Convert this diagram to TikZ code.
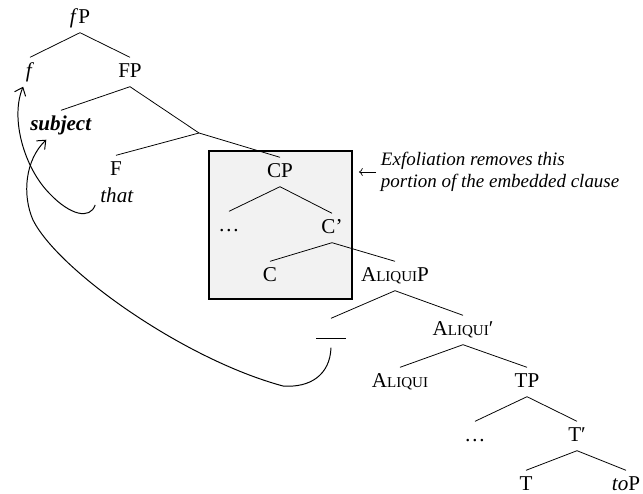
\documentclass[tikz,border=0pt]{standalone}
\usepackage{fontspec}
\setmainfont{Liberation Serif}
\usetikzlibrary{arrows.meta}
\tikzset{
	x=0.025cm, y=-0.025cm,
	every node/.style={font=\fontsize{15}{18}\selectfont},
	lbl/.style={text height=10.5pt, text depth=3pt, inner sep=3.5pt},
	branch/.style={draw, line width=0.55pt},
	move/.style={draw, -{Straight Barb[length=1.8mm,width=3mm]}, line width=0.7pt}
}
\newcommand{\smc}[1]{{\fontsize{10.7}{13}\selectfont #1}}

\begin{document}
\begin{tikzpicture}
\useasboundingbox (0,0) rectangle (643,493);
\node (exfol) [draw, line width=1.8pt, fill=black!5, minimum width=3.575cm, minimum height=3.7cm, inner sep=0pt] at (280.5,225) {};
\node (fP) [lbl] at (80,18) {\textit{f}P};
\node (f) [lbl] at (30,72) {\textit{f}};
\node (FP) [lbl] at (130,72) {FP};
\node (subject) [lbl] at (61,125) {\textbf{\textit{subject}}};
\coordinate (Fbar) at (199,133);
\node (F) [lbl] at (116,170) {F};
\node (that) [lbl] at (117,197) {\textit{that}};
\node (CP) [lbl] at (280,172) {CP};
\node (dots1) [lbl] at (229,226) {\dots};
\node (Cbar) [lbl] at (332,228) {C'};
\node (C) [lbl] at (270,276) {C};
\node (AP) [lbl] at (395,276) {A\smc{LIQUI}P};
\node (gap) [lbl] at (331,333) {\rule{21pt}{0.5pt}};
\node (Abar) [lbl] at (463,330) {A\smc{LIQUI}′};
\node (A) [lbl] at (400,382) {A\smc{LIQUI}};
\node (TP) [lbl] at (527,382) {TP};
\node (dots2) [lbl] at (475,436) {\dots};
\node (Tbar) [lbl] at (577,436) {T′};
\node (T) [lbl] at (526,485) {T};
\node (toP) [lbl] at (626,485) {\textit{to}P};
\node (note) [anchor=west, align=left, font=\fontsize{13.5}{16}\selectfont\itshape] at (376,172) {Exfoliation removes this\\portion of the embedded clause};
% branches
\draw[branch] (fP.south) -- (f.north); \draw[branch] (fP.south) -- (FP.north);
\draw[branch] (FP.south) -- (subject.north); \draw[branch] (FP.south) -- (Fbar);
\draw[branch] (Fbar) -- (F.north); \draw[branch] (Fbar) -- (CP.north);
\draw[branch] (CP.south) -- (dots1.north); \draw[branch] (CP.south) -- (Cbar.north);
\draw[branch] (Cbar.south) -- (C.north); \draw[branch] (Cbar.south) -- (AP.north);
\draw[branch] (AP.south) -- (gap.north); \draw[branch] (AP.south) -- (Abar.north);
\draw[branch] (Abar.south) -- (A.north); \draw[branch] (Abar.south) -- (TP.north);
\draw[branch] (TP.south) -- (dots2.north); \draw[branch] (TP.south) -- (Tbar.north);
\draw[branch] (Tbar.south) -- (T.north); \draw[branch] (Tbar.south) -- (toP.north);
% movement
\draw[move] (that.200) .. controls (90,220) and (70,215) .. (50,194) .. controls (24,168) and (10,118) .. (f.-115);
\draw[move] (gap.south) .. controls (330,375) and (310,388) .. (283,386) .. controls (183,359) and (58,270) .. (33,220) .. controls (22,195) and (25,160) .. (subject.-135);
\draw[->, line width=0.5pt, shorten >=4pt] (note.west) -- (note.west -| exfol.east);
\end{tikzpicture}
\end{document}
